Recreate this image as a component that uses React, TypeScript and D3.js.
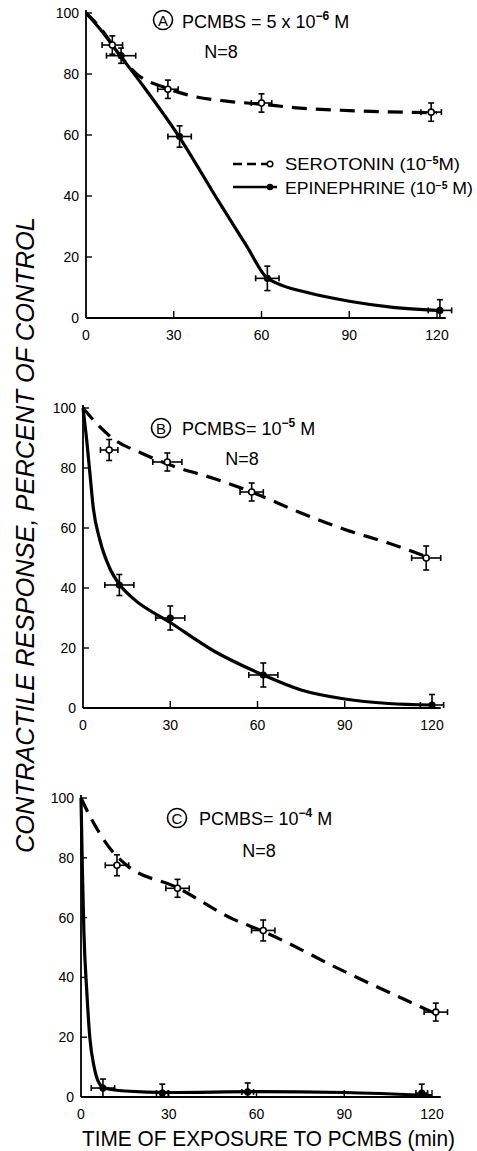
import React from "react";
import * as d3 from "d3";

const W = 477;
const H = 1151;

const xTicks = [0, 30, 60, 90, 120];
const yTicks = [0, 20, 40, 60, 80, 100];

// Panel A: PCMBS = 5x10^-6 M
const aSeroPts = [[9, 89.5], [28, 75], [60, 70.5], [118, 67.5]];
const aSeroErrY = [3, 3, 3, 3];
const aSeroErrX = [3.5, 3.5, 3.5, 3.5];
const aSeroCurve = [[0, 100], [5, 95], [11.3, 86.5], [17, 80.3], [28, 75.2], [37.6, 72.5], [48, 71.1], [60, 70.1], [71, 69], [90, 68], [120, 67.3]];
const aEpiPts = [[12, 86], [32, 59.5], [62, 13], [121, 2.5]];
const aEpiErrY = [2.5, 3.5, 4, 3.5];
const aEpiErrX = [5, 4, 4, 4];
const aEpiCurve = [[0, 100], [5, 94.5], [11.3, 86.5], [20, 75.5], [31.8, 59.5], [45.5, 38], [55, 23.5], [61.5, 13.5], [65, 11.5], [75, 8.5], [90, 5.5], [105, 3.5], [120, 2.5]];

// Panel B: PCMBS = 10^-5 M
const bSeroPts = [[9, 86], [29, 82], [58, 72], [118, 50]];
const bSeroErrY = [3.5, 3, 3, 4];
const bSeroErrX = [3, 5, 4, 5];
const bSeroCurve = [[0, 100], [5, 94.5], [10, 90], [20, 85], [30, 81], [45, 76.5], [58, 72], [75, 65], [90, 59.5], [105, 55], [118, 50.5]];
const bEpiPts = [[12.5, 41], [30, 30], [62, 11], [120, 1]];
const bEpiErrY = [3.5, 4, 4, 3.5];
const bEpiErrX = [5, 5, 5, 4];
const bEpiCurve = [[0, 100], [1.3, 89], [2.4, 78], [3.5, 67], [5.8, 56], [9, 47], [12.7, 41], [17, 36.7], [30, 28.5], [45, 19], [62, 11], [75, 6], [90, 3], [105, 1.5], [120, 1]];

// Panel C: PCMBS = 10^-4 M
const cSeroPts = [[12.3, 77.5], [33, 69.8], [62.3, 55.7], [121.3, 28.4]];
const cSeroErrY = [3.5, 3, 3.5, 3];
const cSeroErrX = [4, 4, 4, 4];
const cSeroCurve = [[0, 100], [3, 94], [6.5, 88], [10, 83], [15, 78], [33, 70], [52, 59.5], [62, 55.5], [90, 42], [121, 28]];
const cEpiPts = [[7.5, 3], [27.8, 1.3], [57, 1.7], [116.5, 1.3]];
const cEpiErrY = [3, 3, 3, 3];
const cEpiErrX = [4, 2, 2, 2];
const cEpiCurve = [[0, 100], [0.5, 75], [1, 55], [2, 35], [3, 20], [4.5, 10], [6, 5], [8, 3], [15, 2], [30, 1.5], [60, 1.8], [90, 1.5], [120, 0.5]];

const FONT = "'Liberation Sans', Arial, sans-serif";

type Pt = number[];

interface PanelCfg {
  x0: number; x1: number; y0: number; y1: number;
  letter: string; letterCx: number; letterCy: number;
  titleX: number; titleY: number; titleMain: string; titleSup: string;
  nX: number; nY: number;
  sero: Pt[]; seroErrY: number[]; seroErrX: number[]; seroCurve: Pt[];
  epi: Pt[]; epiErrY: number[]; epiErrX: number[]; epiCurve: Pt[];
  legend?: boolean;
}

const panels: PanelCfg[] = [
  {
    x0: 86, x1: 437, y0: 318, y1: 13,
    letter: "A", letterCx: 163, letterCy: 20,
    titleX: 182, titleY: 28, titleMain: "PCMBS = 5 x 10", titleSup: "−6",
    nX: 221, nY: 58,
    sero: aSeroPts, seroErrY: aSeroErrY, seroErrX: aSeroErrX, seroCurve: aSeroCurve,
    epi: aEpiPts, epiErrY: aEpiErrY, epiErrX: aEpiErrX, epiCurve: aEpiCurve,
    legend: true,
  },
  {
    x0: 83, x1: 432, y0: 708, y1: 408,
    letter: "B", letterCx: 161, letterCy: 428,
    titleX: 182, titleY: 435, titleMain: "PCMBS= 10", titleSup: "−5",
    nX: 242, nY: 465,
    sero: bSeroPts, seroErrY: bSeroErrY, seroErrX: bSeroErrX, seroCurve: bSeroCurve,
    epi: bEpiPts, epiErrY: bEpiErrY, epiErrX: bEpiErrX, epiCurve: bEpiCurve,
  },
  {
    x0: 81, x1: 432, y0: 1097, y1: 798,
    letter: "C", letterCx: 177, letterCy: 818,
    titleX: 199, titleY: 825, titleMain: "PCMBS= 10", titleSup: "−4",
    nX: 259, nY: 857,
    sero: cSeroPts, seroErrY: cSeroErrY, seroErrX: cSeroErrX, seroCurve: cSeroCurve,
    epi: cEpiPts, epiErrY: cEpiErrY, epiErrX: cEpiErrX, epiCurve: cEpiCurve,
  },
];

function ErrorBar({ cx, cy, top, bottom, left, right }: { cx: number; cy: number; top: number; bottom: number; left: number; right: number }) {
  const cap = 3;
  return (
    <g stroke="#000" strokeWidth={1.6}>
      <line x1={cx} x2={cx} y1={top} y2={bottom} />
      <line x1={cx - cap} x2={cx + cap} y1={top} y2={top} />
      <line x1={cx - cap} x2={cx + cap} y1={bottom} y2={bottom} />
      <line x1={left} x2={right} y1={cy} y2={cy} />
      <line x1={left} x2={left} y1={cy - cap} y2={cy + cap} />
      <line x1={right} x2={right} y1={cy - cap} y2={cy + cap} />
    </g>
  );
}

function Panel({ cfg }: { cfg: PanelCfg }) {
  const x = d3.scaleLinear().domain([0, 120]).range([cfg.x0, cfg.x1]);
  const y = d3.scaleLinear().domain([0, 100]).range([cfg.y0, cfg.y1]);
  const line = d3
    .line<Pt>()
    .x((d) => x(d[0]))
    .y((d) => y(d[1]))
    .curve(d3.curveMonotoneX);

  return (
    <g>
      {/* axes */}
      <line x1={cfg.x0} x2={cfg.x0} y1={y(100) - 3} y2={cfg.y0} stroke="#000" strokeWidth={1.8} />
      <line x1={cfg.x0} x2={x(123)} y1={cfg.y0} y2={cfg.y0} stroke="#000" strokeWidth={1.8} />
      {yTicks.map((t) => (
        <g key={"y" + t}>
          {t > 0 && <line x1={cfg.x0} x2={cfg.x0 + 6} y1={y(t)} y2={y(t)} stroke="#000" strokeWidth={1.4} />}
          <text x={cfg.x0 - 7} y={y(t) + 5} textAnchor="end" fontFamily={FONT} fontSize={14}>{t}</text>
        </g>
      ))}
      {xTicks.map((t) => (
        <g key={"x" + t}>
          {t > 0 && <line x1={x(t)} x2={x(t)} y1={cfg.y0} y2={cfg.y0 - 7} stroke="#000" strokeWidth={1.4} />}
          <text x={x(t)} y={cfg.y0 + 22} textAnchor="middle" fontFamily={FONT} fontSize={14}>{t}</text>
        </g>
      ))}

      {/* curves */}
      <path d={line(cfg.seroCurve) || ""} fill="none" stroke="#000" strokeWidth={3.2} strokeDasharray="15,9" />
      <path d={line(cfg.epiCurve) || ""} fill="none" stroke="#000" strokeWidth={3.2} />

      {/* serotonin points */}
      {cfg.sero.map((d, i) => (
        <g key={"s" + i}>
          <ErrorBar
            cx={x(d[0])} cy={y(d[1])}
            top={y(d[1] + cfg.seroErrY[i])} bottom={y(d[1] - cfg.seroErrY[i])}
            left={x(d[0] - cfg.seroErrX[i])} right={x(d[0] + cfg.seroErrX[i])}
          />
          <circle cx={x(d[0])} cy={y(d[1])} r={3} fill="#fff" stroke="#000" strokeWidth={1.6} />
        </g>
      ))}
      {/* epinephrine points */}
      {cfg.epi.map((d, i) => (
        <g key={"e" + i}>
          <ErrorBar
            cx={x(d[0])} cy={y(d[1])}
            top={y(d[1] + cfg.epiErrY[i])} bottom={y(Math.max(0, d[1] - cfg.epiErrY[i]))}
            left={x(d[0] - cfg.epiErrX[i])} right={x(d[0] + cfg.epiErrX[i])}
          />
          <circle cx={x(d[0])} cy={y(d[1])} r={3.6} fill="#000" />
        </g>
      ))}

      {/* title */}
      <circle cx={cfg.letterCx} cy={cfg.letterCy} r={9.5} fill="#fff" stroke="#000" strokeWidth={1.6} />
      <text x={cfg.letterCx} y={cfg.letterCy + 5.5} textAnchor="middle" fontFamily={FONT} fontSize={15}>{cfg.letter}</text>
      <text x={cfg.titleX} y={cfg.titleY} fontFamily={FONT} fontSize={18}>
        {cfg.titleMain}
        <tspan dy={-8} fontSize={12} fontWeight="bold">{cfg.titleSup}</tspan>
        <tspan dy={8}>{"  M"}</tspan>
      </text>
      <text x={cfg.nX} y={cfg.nY} textAnchor="middle" fontFamily={FONT} fontSize={18}>N=8</text>

      {cfg.legend && (
        <g>
          <line x1={233} x2={270} y1={164} y2={164} stroke="#000" strokeWidth={2.4} strokeDasharray="9,5" />
          <circle cx={270} cy={164} r={2.8} fill="#fff" stroke="#000" strokeWidth={1.5} />
          <text x={285} y={170} fontFamily={FONT} fontSize={17} textLength={175} lengthAdjust="spacingAndGlyphs">
            SEROTONIN (10<tspan dy={-6} fontSize={10} fontWeight="bold">−5</tspan><tspan dy={6}>M)</tspan>
          </text>
          <line x1={233} x2={277} y1={187} y2={187} stroke="#000" strokeWidth={2.4} />
          <circle cx={270} cy={187} r={3.2} fill="#000" />
          <text x={285} y={194} fontFamily={FONT} fontSize={17} textLength={188} lengthAdjust="spacingAndGlyphs">
            EPINEPHRINE (10<tspan dy={-5} fontSize={10} fontWeight="bold">−5</tspan><tspan dy={5}> M)</tspan>
          </text>
        </g>
      )}
    </g>
  );
}

export default function App() {
  return (
    <div style={{ position: "absolute", left: 0, top: 0, width: W, height: H, background: "#fff" }}>
      <svg width={W} height={H} viewBox={`0 0 ${W} ${H}`} style={{ display: "block" }}>
        <rect width={W} height={H} fill="#fff" />
        {panels.map((p, i) => (
          <Panel key={i} cfg={p} />
        ))}
        <text
          transform={`translate(34, 535) rotate(-90)`}
          textAnchor="middle"
          fontFamily={FONT}
          fontStyle="italic"
          fontSize={26}
          textLength={636}
          lengthAdjust="spacingAndGlyphs"
        >
          CONTRACTILE RESPONSE, PERCENT OF CONTROL
        </text>
        <text
          x={82}
          y={1146}
          fontFamily={FONT}
          fontSize={22}
          textLength={373}
          lengthAdjust="spacingAndGlyphs"
        >
          TIME OF EXPOSURE TO PCMBS (min)
        </text>
      </svg>
    </div>
  );
}
